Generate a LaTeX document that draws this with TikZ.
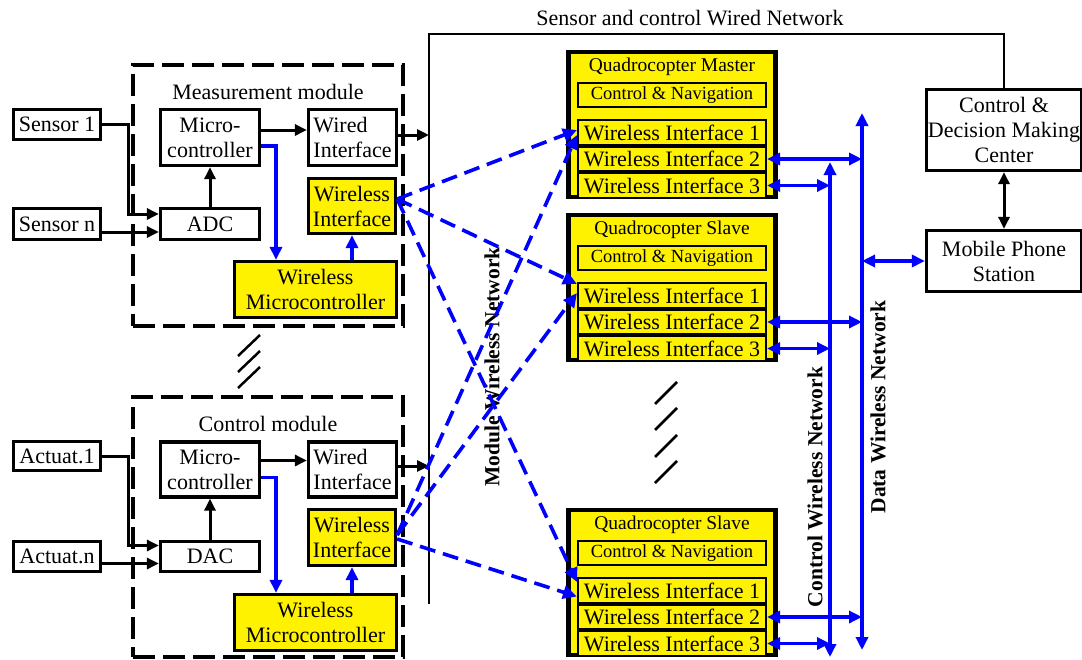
\documentclass[tikz,border=0pt]{standalone}
\usepackage{fontspec}
\setmainfont{Liberation Serif}
\usetikzlibrary{arrows.meta,calc}
\newcommand\fsA{\fontsize{22}{25}\selectfont}
\newcommand\fsT{\fontsize{19.5}{22}\selectfont}
\newcommand\fsN{\fontsize{18.5}{21}\selectfont}
\newcommand\fsB{\fontsize{21.5}{24}\selectfont\bfseries}
\begin{document}
\begin{tikzpicture}[x=1pt,y=-1pt,
 box/.style={draw, line width=3.3pt, inner sep=0pt, align=center, font=\fsA},
 ybox/.style={box, fill=yellow},
 modbox/.style={draw, line width=3.3pt, dash pattern=on 22pt off 8pt, inner sep=0pt},
 quad/.style={draw, line width=4.4pt, fill=yellow, minimum width=207pt, minimum height=145pt, inner sep=0pt},
 inbox/.style={draw, line width=2.1pt, fill=yellow, minimum width=188pt, inner sep=0pt, font=\fsA},
 blk/.style={line width=3pt, -{Triangle[length=12pt,width=11pt]}},
 blkd/.style={line width=3pt, {Triangle[length=12pt,width=11pt]}-{Triangle[length=12pt,width=11pt]}},
 bl/.style={blue, line width=3.4pt, -{Triangle[length=13pt,width=12pt]}},
 bld/.style={blue, line width=3.4pt, {Triangle[length=13pt,width=12pt]}-{Triangle[length=13pt,width=12pt]}},
 dl/.style={blue, line width=3.6pt, dash pattern=on 16pt off 8pt, -{Triangle[length=14pt,width=13pt]}},
 wire/.style={line width=2.3pt},
 brk/.style={line width=2.5pt},
 netlab/.style={rotate=90, font=\fsB, inner sep=0pt},
]
\useasboundingbox (0,0) rectangle (1082,659);

% ---------- Measurement module ----------
\node[modbox, minimum width=270pt, minimum height=261pt] (mmod) at (268,195.5) {};
\node[font=\fsA] (mlab) at (268,92) {Measurement module};
\node[box, minimum width=87pt, minimum height=30pt] (sen1) at (57,124.5) {Sensor 1};
\node[box, minimum width=87pt, minimum height=31pt] (senn) at (57,224) {Sensor n};
\node[box, minimum width=99pt, minimum height=56pt] (mmc) at (210,137.5) {Micro-\\controller};
\node[box, minimum width=88pt, minimum height=56pt, align=left] (mwired) at (352.5,137.5) {Wired\\Interface};
\node[ybox, minimum width=87pt, minimum height=55pt] (mwi) at (352,206) {Wireless\\Interface};
\node[box, minimum width=99pt, minimum height=31pt] (adc) at (210,224) {ADC};
\node[ybox, minimum width=162pt, minimum height=56pt] (mwm) at (315.5,289.5) {Wireless\\Microcontroller};

% ---------- Control module ----------
\node[modbox, minimum width=270pt, minimum height=260pt] (cmod) at (268,527) {};
\node[font=\fsA] (clab) at (268,424) {Control module};
\node[box, minimum width=87pt, minimum height=29pt] (act1) at (57,456) {Actuat.1};
\node[box, minimum width=87pt, minimum height=30pt] (actn) at (57,556.5) {Actuat.n};
\node[box, minimum width=99pt, minimum height=55pt] (cmc) at (210,469.5) {Micro-\\controller};
\node[box, minimum width=88pt, minimum height=55pt, align=left] (cwired) at (352.5,469.5) {Wired\\Interface};
\node[ybox, minimum width=87pt, minimum height=56pt] (cwi) at (352,537.5) {Wireless\\Interface};
\node[box, minimum width=99pt, minimum height=30pt] (dac) at (210,556.5) {DAC};
\node[ybox, minimum width=162pt, minimum height=56pt] (cwm) at (315.5,622.5) {Wireless\\Microcontroller};

% ---------- module internal connectors ----------
\draw[blk] (sen1.east) -| ([xshift=-30pt,yshift=10pt]adc.west) -- ([yshift=10pt]adc.west);
\draw[blk] ([yshift=-8pt]senn.east) -- ([yshift=-8pt]adc.west);
\draw[blk] (adc) -- (mmc);
\draw[blk] ([yshift=7.5pt]mmc.east) -- ([yshift=7.5pt]mwired.west);
\draw[bl] ([yshift=-8.5pt]mmc.east) -| ([xshift=-39.5pt]mwm.north);
\draw[bl] (mwi.south |- mwm.north) -- (mwi.south);

\draw[blk] (act1.east) -| ([xshift=-30pt,yshift=11pt]dac.west) -- ([yshift=11pt]dac.west);
\draw[blk] ([yshift=-7pt]actn.east) -- ([yshift=-7pt]dac.west);
\draw[blk] (dac) -- (cmc);
\draw[blk] ([yshift=9pt]cmc.east) -- ([yshift=9pt]cwired.west);
\draw[bl] ([yshift=-8pt]cmc.east) -| ([xshift=-39.5pt]cwm.north);
\draw[bl] (cwi.south |- cwm.north) -- (cwi.south);

% ---------- break marks ----------
\draw[brk] (238,356) -- (260,335);
\draw[brk] (238,372) -- (260,351);
\draw[brk] (238,388) -- (260,367);
\draw[brk] (655,404) -- (677,382);
\draw[brk] (655,430) -- (677,408);
\draw[brk] (655,457) -- (677,435);
\draw[brk] (655,483) -- (677,461);

% ---------- right side boxes ----------
\node[box, minimum width=155pt, minimum height=81pt] (cdm) at (1004,130) {Control \&\\Decision Making\\Center};
\node[box, minimum width=155pt, minimum height=61pt] (mps) at (1004,261) {Mobile Phone\\Station};
\draw[blkd] (cdm) -- (mps);

% ---------- wired network ----------
\coordinate (wnt) at (429,34);
\coordinate (wnb) at (429,604);
\draw[wire] (wnb) -- (wnt) -| (cdm.north);
\node[font=\fsA] (wnl) at (690,18) {Sensor and control Wired Network};
\coordinate (mwo) at ([yshift=2.5pt]mwired.east);
\coordinate (cwo) at ([yshift=3.5pt]cwired.east);
\draw[blk] (mwo) -- (mwo -| wnt);
\draw[blk] (cwo) -- (cwo -| wnt);

% ---------- quadrocopters ----------
\foreach \q/\T/\ttl in {1/50/{Quadrocopter Master},2/213/{Quadrocopter Slave},3/508/{Quadrocopter Slave}}{
  \node[quad] (q\q) at (672,\T+74.5) {};
  \node[font=\fsT, inner sep=0pt] (q\q t) at (672,\T+17) {\ttl};
  \node[inbox, minimum height=24pt, font=\fsN] (q\q cn) at (672,\T+45) {Control \& Navigation};
  \node[inbox, minimum height=25pt] (q\q w1) at (672,\T+82.5) {Wireless Interface 1};
  \node[inbox, minimum height=24pt] (q\q w2) at (672,\T+109) {Wireless Interface 2};
  \node[inbox, minimum height=25pt] (q\q w3) at (672,\T+135.5) {Wireless Interface 3};
}

% ---------- wireless networks ----------
\coordinate (dT) at (862,113);
\coordinate (dB) at (862,650);
\coordinate (cT) at (830,162);
\coordinate (cB) at (830,657);
\draw[bld] (dB) -- (dT);
\draw[bld] (cB) -- (cT);
\foreach \q in {1,2,3}{
  \draw[bld] (q\q w2.east) -- (q\q w2.east -| dT);
  \draw[bld] (q\q w3.east) -- (q\q w3.east -| cT);
}
\draw[bld] (mps.west) -- (mps.west -| dT);

\node[netlab] (mwn) at (492,367) {Module Wireless Network};
\node[netlab] (cwn) at (815,487) {Control Wireless Network};
\node[netlab] (dwn) at (878,407) {Data Wireless Network};

% ---------- module wireless network (dashed) ----------
\draw[dl] ([yshift=7pt]mwi.east) -- ([yshift=2.5pt]q1w1.west);
\draw[dl] ([yshift=7pt]mwi.east) -- ([yshift=-2pt]q2w1.north west);
\draw[dl] ([yshift=7pt]mwi.east) -- ([yshift=-5pt]q3w1.north west);
\draw[dl] ([yshift=2.5pt]cwi.east) -- ([yshift=-2.5pt]q1w1.west);
\draw[dl] ([yshift=2.5pt]cwi.east) -- ([yshift=2.5pt]q2w1.west);
\draw[dl] ([yshift=-1.5pt]cwi.east) -- ([yshift=-6pt]q3w1.west);
\end{tikzpicture}
\end{document}
